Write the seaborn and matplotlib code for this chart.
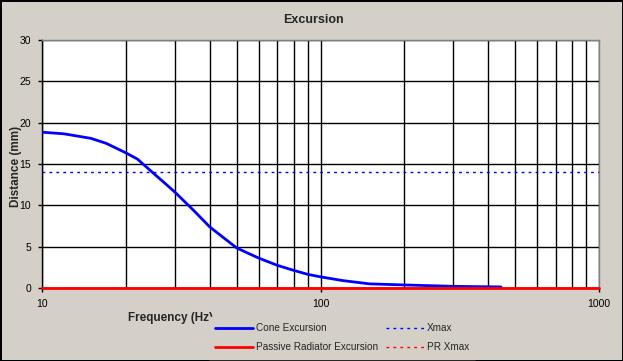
import pandas as pd
import matplotlib
matplotlib.use('Agg')
import matplotlib.pyplot as plt
import seaborn as sns
from matplotlib.ticker import FixedLocator, NullFormatter, MultipleLocator

# Dados
freq = [10, 12, 15, 17, 20, 22, 25, 28, 30, 35, 40, 45, 50, 55, 60, 70,
        80, 90, 100, 120, 150, 200, 300, 400, 445]
cone = [18.85, 18.65, 18.1, 17.5, 16.35, 15.6, 13.95, 12.5, 11.6, 9.4, 7.4,
        6.05, 4.85, 4.2, 3.62, 2.74, 2.14, 1.65, 1.35, 0.9, 0.5, 0.37, 0.2,
        0.15, 0.13]
pr_freq = [10, 1000]
pr_exc = [0, 0]
xmax = 14
pr_xmax = 0

bg = '#d4d0c8'

sns.set_theme(style='white')
plt.rcParams['font.family'] = ['Liberation Sans', 'DejaVu Sans']

fig = plt.figure(figsize=(6.23, 3.61), dpi=100, facecolor=bg)
fig.patch.set_edgecolor('black')
fig.patch.set_linewidth(2)
ax = fig.add_axes([42 / 623, 1 - 288 / 361, 557 / 623, 248 / 361])
ax.set_facecolor('white')

df_cone = pd.DataFrame({'f': freq, 'v': cone})
df_pr = pd.DataFrame({'f': pr_freq, 'v': pr_exc})
df_x = pd.DataFrame({'f': pr_freq, 'v': [xmax, xmax]})
df_px = pd.DataFrame({'f': pr_freq, 'v': [pr_xmax, pr_xmax]})

dots = (0, (2, 3))
sns.lineplot(data=df_cone, x='f', y='v', ax=ax, color='#0000ff', lw=2,
             label='Cone Excursion', zorder=4)
sns.lineplot(data=df_pr, x='f', y='v', ax=ax, color='#ff0000', lw=2,
             label='Passive Radiator Excursion', zorder=4, clip_on=False)
sns.lineplot(data=df_x, x='f', y='v', ax=ax, color='#0000ff', lw=1,
             linestyle=dots, label='Xmax', zorder=3)
sns.lineplot(data=df_px, x='f', y='v', ax=ax, color='#ff0000', lw=1,
             linestyle=dots, label='PR Xmax', zorder=3)

ax.set_xscale('log')
ax.set_xlim(10, 1000)
ax.set_ylim(0, 30)
ax.xaxis.set_major_locator(FixedLocator([10, 100, 1000]))
ax.xaxis.set_major_formatter(matplotlib.ticker.FuncFormatter(lambda v, p: f'{v:g}'))
ax.xaxis.set_minor_locator(FixedLocator([20, 30, 40, 50, 60, 70, 80, 90,
                                         200, 300, 400, 500, 600, 700, 800, 900]))
ax.xaxis.set_minor_formatter(NullFormatter())
ax.yaxis.set_major_locator(MultipleLocator(5))
ax.yaxis.set_minor_locator(MultipleLocator(2.5))

ax.grid(True, which='both', axis='x', color='black', lw=1)
ax.grid(True, which='major', axis='y', color='black', lw=1)
ax.set_axisbelow(True)

ax.tick_params(axis='both', which='major', direction='out', length=3, width=1,
               color='black', labelsize=7.5, labelcolor='black')
ax.tick_params(axis='y', which='minor', direction='out', length=3, width=1, color='black')
ax.tick_params(axis='x', which='minor', length=0)
ax.tick_params(axis='x', which='major', pad=5)
ax.tick_params(axis='y', which='major', pad=5)
ax.tick_params(left=True, bottom=True)

for s in ['left', 'bottom']:
    ax.spines[s].set_color('black')
    ax.spines[s].set_linewidth(1)
for s in ['top', 'right']:
    ax.spines[s].set_color('#808080')
    ax.spines[s].set_linewidth(1)

ax.set_xlabel('')
ax.set_ylabel('')
ax.get_legend().remove()

fig.text(313 / 623, 1 - 20 / 361, 'Excursion', ha='center', va='center',
         fontsize=9, fontweight='bold')
fig.text(16 / 623, 1 - 166 / 361, 'Distance (mm)', ha='center', va='center',
         rotation=90, fontsize=8.5, fontweight='bold')
fig.text(128 / 623, 1 - 318 / 361, 'Frequency (Hz)', ha='left', va='center',
         fontsize=8.5, fontweight='bold')

handles, labels = ax.get_legend_handles_labels()
leg = fig.legend(handles, labels, ncol=2, loc='upper left',
                 bbox_to_anchor=(204 / 623, 1 - 312 / 361), fontsize=7.2,
                 frameon=True, facecolor=bg, edgecolor=bg, framealpha=1,
                 fancybox=False, handlelength=3.8, handletextpad=0.3,
                 columnspacing=0.8, labelspacing=0.95, borderpad=0.6)
leg.set_zorder(10)

plt.savefig('out.png', dpi=100, facecolor=bg, edgecolor='black')
